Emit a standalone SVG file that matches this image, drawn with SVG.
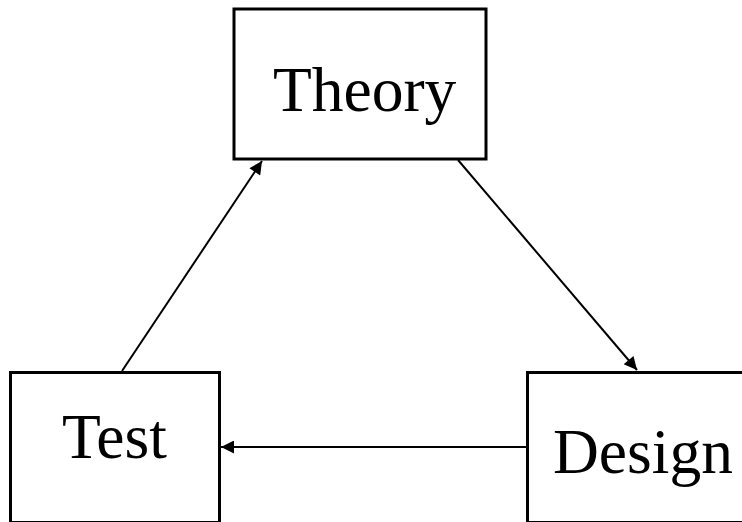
<svg xmlns="http://www.w3.org/2000/svg" width="742" height="522" viewBox="0 0 742 522">
  <style>
    .box { fill: #fff; stroke: #000; stroke-width: 3; }
    .label { font-family: "Liberation Serif", "Times New Roman", serif; font-size: 63.5px; fill: #000; }
    .edge { stroke: #000; stroke-width: 2; fill: none; marker-end: url(#arrow); }
  </style>
  <defs>
    <marker id="arrow" viewBox="0 0 10 10" refX="10" refY="5" markerWidth="8" markerHeight="6.5" markerUnits="strokeWidth" orient="auto">
      <path d="M0,0 L10,5 L0,10 Z" fill="#000"/>
    </marker>
  </defs>
  <rect width="742" height="522" fill="#fff"/>
  <g id="theory">
    <rect class="box" x="234" y="9" width="252" height="150"/>
    <text class="label" x="273" y="111">Theory</text>
  </g>
  <g id="test">
    <rect class="box" x="10.5" y="372.5" width="209" height="150"/>
    <text class="label" x="62" y="458">Test</text>
  </g>
  <g id="design">
    <rect class="box" x="527.5" y="372.5" width="220" height="150"/>
    <text class="label" x="553" y="473">Design</text>
  </g>
  <g id="connectors">
    <line class="edge" x1="122" y1="371" x2="262" y2="161"/>
    <line class="edge" x1="458" y1="160" x2="637" y2="370"/>
    <line class="edge" x1="526" y1="447" x2="221" y2="447"/>
  </g>
</svg>
